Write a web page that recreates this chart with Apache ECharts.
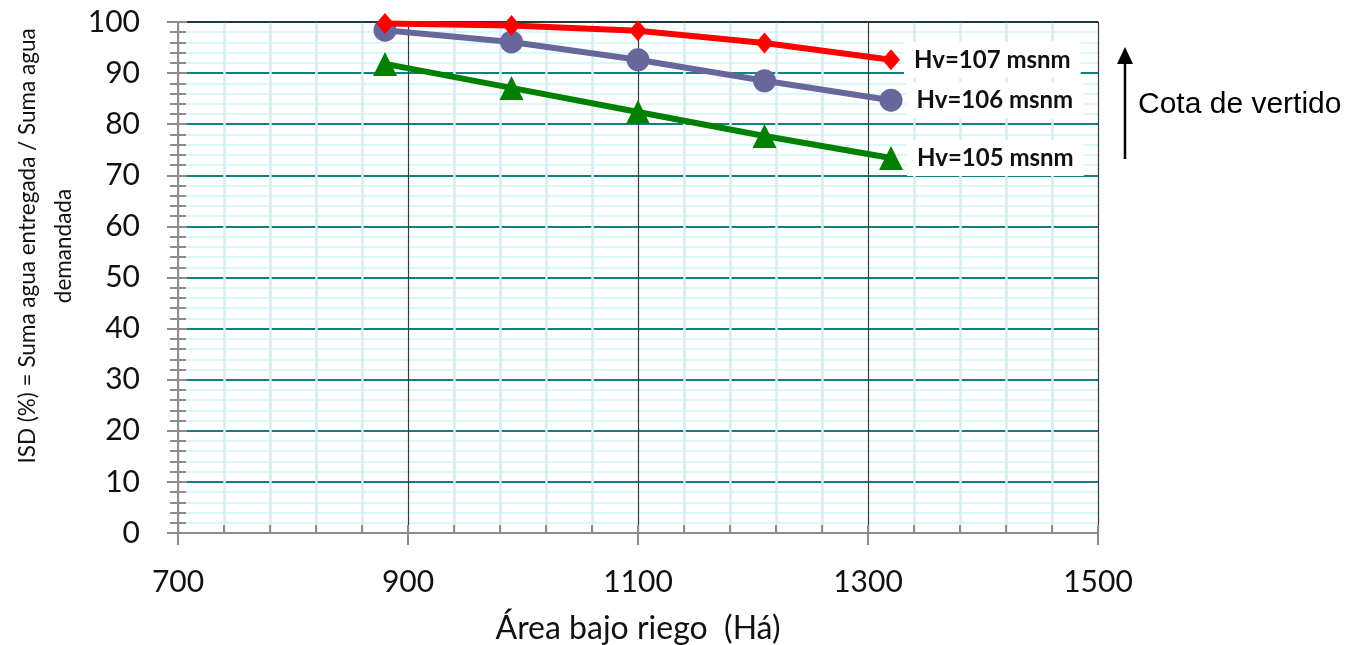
<!DOCTYPE html>
<html>
<head>
<meta charset="utf-8">
<script src="https://cdn.jsdelivr.net/npm/echarts@6/dist/echarts.min.js"></script>
<style>
  html, body { margin: 0; padding: 0; background: #ffffff; }
  #chart { width: 1363px; height: 645px; }
</style>
</head>
<body>
<div id="chart"></div>
<script>
// Irrigated area (ha) for each simulated scenario
const area = [880, 990, 1100, 1210, 1320];

// ISD (%) for each spillway crest level
const hv107 = [99.7, 99.3, 98.3, 95.9, 92.6];
const hv106 = [98.4, 96.1, 92.6, 88.5, 84.7];
const hv105 = [91.8, 87.1, 82.4, 77.7, 73.4];

const seriesNames = ['Hv=107 msnm', 'Hv=106 msnm', 'Hv=105 msnm'];

const xTitle = 'Área bajo riego  (Há)';
const yTitle = 'ISD (%) = Suma agua entregada / Suma agua\ndemandada';
const noteText = 'Cota de vertido';

const chart = echarts.init(document.getElementById('chart'), null, { renderer: 'canvas' });

// End-of-line label naming each curve
function endLabel(text) {
  return {
    show: true,
    position: 'right',
    distance: 4,
    formatter: text,
    fontFamily: 'Lato',
    fontWeight: 'bold',
    fontSize: 24,
    color: '#111111',
    backgroundColor: '#ffffff',
    padding: [6, 10, 6, 10]
  };
}

function buildData(values, name) {
  const last = values.length - 1;
  return values.map((v, i) => {
    if (i === last) {
      return { value: [area[i], v], label: endLabel(name) };
    }
    return [area[i], v];
  });
}

function makeSeries(name, values, color, symbol, size, z) {
  return {
    name: name,
    type: 'line',
    data: buildData(values, name),
    symbol: symbol,
    symbolSize: size,
    lineStyle: { color: color, width: 6 },
    itemStyle: { color: color },
    label: { show: false },
    z: z,
    animation: false
  };
}

const series = [
  makeSeries(seriesNames[2], hv105, '#008000', 'triangle', 24, 3),
  makeSeries(seriesNames[1], hv106, '#67679c', 'circle', 23, 4),
  makeSeries(seriesNames[0], hv107, '#ff0000', 'diamond', [18, 21], 5)
];

const tickFont = {
  fontFamily: 'Lato', fontSize: 30, color: '#111111',
  formatter: v => String(v)
};

chart.setOption({
  backgroundColor: '#ffffff',
  animation: false,
  grid: { left: 178, right: 265, top: 22, bottom: 112, containLabel: false, outerBoundsMode: 'none' },
  xAxis: [
    {
      type: 'value', min: 700, max: 1500, interval: 200,
      position: 'bottom',
      name: xTitle, nameLocation: 'middle', nameGap: 80,
      nameTextStyle: { fontFamily: 'Lato', fontSize: 32, color: '#111111' },
      axisLine: { show: true, onZero: false, lineStyle: { color: '#8c8c8c', width: 2 } },
      axisTick: { show: true, inside: false, length: 12, lineStyle: { color: '#8c8c8c', width: 2 } },
      minorTick: { show: false },
      axisLabel: Object.assign({ margin: 34 }, tickFont),
      splitLine: { show: true, lineStyle: { color: '#3a3a3a', width: 1.2 } },
      minorSplitLine: { show: true, lineStyle: { color: '#d6ecf2', width: 2.5 } }
    },
    {
      type: 'value', min: 700, max: 1500, interval: 200,
      position: 'bottom',
      axisLine: { show: false },
      axisTick: { show: true, inside: true, length: 8, lineStyle: { color: '#8c8c8c', width: 2 } },
      minorTick: { show: true, splitNumber: 5, length: 8, lineStyle: { color: '#8c8c8c', width: 2 } },
      axisLabel: { show: false },
      splitLine: { show: false }
    },
    {
      type: 'value', min: 700, max: 1500, interval: 200,
      position: 'top',
      axisLine: { show: true, onZero: false, lineStyle: { color: '#222222', width: 1.5 } },
      axisTick: { show: false },
      axisLabel: { show: false },
      splitLine: { show: false }
    }
  ],
  yAxis: [
    {
      type: 'value', min: 0, max: 100, interval: 10,
      position: 'left',
      axisLine: { show: true, onZero: false, lineStyle: { color: '#8c8c8c', width: 2 } },
      axisTick: { show: true, inside: false, length: 11, lineStyle: { color: '#8c8c8c', width: 2 } },
      minorTick: { show: true, splitNumber: 5, length: 8, lineStyle: { color: '#8c8c8c', width: 2 } },
      axisLabel: Object.assign({ margin: 38 }, tickFont),
      splitLine: { show: true, lineStyle: { color: '#118080', width: 2 } },
      minorSplitLine: { show: true, lineStyle: { color: '#cdf7f7', width: 1.5 } }
    },
    {
      type: 'value', min: 0, max: 100, interval: 10,
      position: 'left',
      axisLine: { show: false },
      axisTick: { show: true, inside: true, length: 9, lineStyle: { color: '#8c8c8c', width: 2 } },
      minorTick: { show: true, splitNumber: 5, length: 8, lineStyle: { color: '#8c8c8c', width: 2 } },
      axisLabel: { show: false },
      splitLine: { show: false }
    }
  ],
  series: series,
  graphic: [
    {
      // y-axis title, two centred lines reading bottom-to-top
      type: 'text', z: 10,
      x: 46, y: 246, rotation: Math.PI / 2,
      style: {
        text: yTitle, fontFamily: 'Lato', fontSize: 22.5, fill: '#111111',
        lineHeight: 36, align: 'center', verticalAlign: 'middle'
      }
    },
    {
      type: 'line', z: 10,
      shape: { x1: 1125, y1: 159, x2: 1125, y2: 60 },
      style: { stroke: '#000000', lineWidth: 2.5 }
    },
    {
      type: 'polygon', z: 10,
      shape: { points: [[1117, 64], [1133, 64], [1125, 47]] },
      style: { fill: '#000000' }
    },
    {
      type: 'text', z: 10,
      left: 1138, top: 90,
      style: { text: noteText, fontFamily: 'Liberation Sans', fontSize: 30, fill: '#000000' }
    }
  ]
});
</script>
</body>
</html>
